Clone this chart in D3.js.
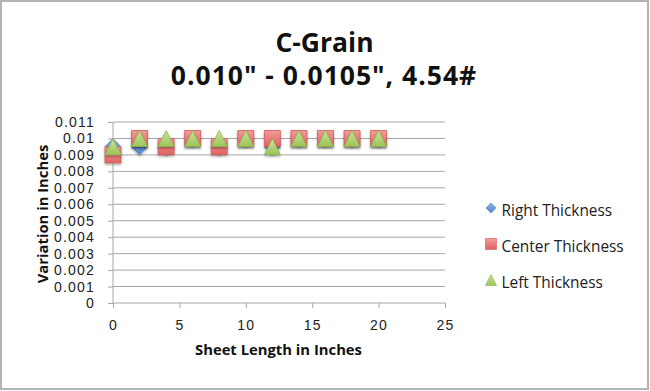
<!DOCTYPE html>
<html><head><meta charset="utf-8">
<script src="https://cdn.jsdelivr.net/npm/d3@7/dist/d3.min.js"></script>
<style>body{margin:0;background:#fff}svg{display:block}</style>
</head><body>
<svg id="c" width="650" height="391"></svg>
<script>
const xValues = [0, 2, 4, 6, 8, 10, 12, 14, 16, 18, 20];
const rightThickness  = [0.0095, 0.0095, 0.0095, 0.01, 0.0095, 0.01, 0.0095, 0.01, 0.01, 0.01, 0.01];
const centerThickness = [0.009, 0.01, 0.0095, 0.01, 0.0095, 0.01, 0.01, 0.01, 0.01, 0.01, 0.01];
const leftThickness   = [0.0095, 0.01, 0.01, 0.01, 0.01, 0.01, 0.0095, 0.01, 0.01, 0.01, 0.01];
const seriesNames = ["Right Thickness", "Center Thickness", "Left Thickness"];
const xTicks = [0, 5, 10, 15, 20, 25];
const yTicks = [0, 0.001, 0.002, 0.003, 0.004, 0.005, 0.006, 0.007, 0.008, 0.009, 0.01, 0.011];
const titleLines = ["C-Grain", "0.010\" - 0.0105\", 4.54#"];

const svg = d3.select("#c");
const font = "'Open Sans', 'Liberation Sans', sans-serif";
const tickFont = "'Liberation Sans', Arial, sans-serif";
svg.append("rect").attr("x",1).attr("y",1).attr("width",647).attr("height",388)
  .attr("fill","#fff").attr("stroke","#b3b3b3").attr("stroke-width",2);

const x = d3.scaleLinear().domain([0,25]).range([113,445]);
const y = d3.scaleLinear().domain([0,0.011]).range([303,122]);

const defs = svg.append("defs");
function grad(id, c1, c2){
  const g = defs.append("linearGradient").attr("id",id).attr("x1",0).attr("y1",0).attr("x2",0).attr("y2",1);
  g.append("stop").attr("offset","0%").attr("stop-color",c1);
  g.append("stop").attr("offset","100%").attr("stop-color",c2);
}
grad("gB","#8db6ec","#4d84cf");
grad("gR","#f29c99","#e0625f");
grad("gG","#c9e39a","#9cc45a");
const f = defs.append("filter").attr("id","sh").attr("x","-50%").attr("y","-50%").attr("width","200%").attr("height","200%");
f.append("feDropShadow").attr("dx",0).attr("dy",1.5).attr("stdDeviation",1.2).attr("flood-color","#000").attr("flood-opacity",0.35);

// gridlines
svg.append("g").selectAll("line").data(yTicks.filter(d=>d>0)).join("line")
  .attr("x1",113).attr("x2",445).attr("y1",d=>y(d)).attr("y2",d=>y(d))
  .attr("stroke","#a6a6a6").attr("stroke-width",1);

// axes
const yAxis = d3.axisLeft(y).tickValues(yTicks).tickSize(5).tickPadding(13).tickFormat(d=> d===0?"0":String(+d.toFixed(3)));
const gy = svg.append("g").attr("transform","translate(113,0)").call(yAxis);
const xAxis = d3.axisBottom(x).tickValues(xTicks).tickSize(5).tickPadding(12).tickFormat(d3.format("d"));
const gx = svg.append("g").attr("transform","translate(0,303)").call(xAxis);
[gx,gy].forEach(g=>{
  g.select(".domain").attr("stroke","#a6a6a6");
  g.selectAll(".tick line").attr("stroke","#a6a6a6");
  g.selectAll("text").attr("font-family",tickFont).attr("font-size",14).attr("letter-spacing",1.2).attr("fill","#222");
});
gy.select(".domain").attr("d","M0,122V303");
gx.select(".domain").attr("d","M113,0H445");

// marker shapes (box of side 2h centred on the value)
function shape(i, h){
  if(i===0) return `M0,${-h}L${h},0L0,${h}L${-h},0Z`;
  if(i===1) return `M${-h},${-h}H${h}V${h}H${-h}Z`;
  return `M0,${-h}L${h},${h}H${-h}Z`;
}
const fills = ["url(#gB)","url(#gR)","url(#gG)"];
const strokes = ["#4a7ec4","#cf5b58","#8fb64c"];
const allSeries = [rightThickness, centerThickness, leftThickness];
allSeries.forEach((vals,i)=>{
  svg.append("g").selectAll("path").data(vals).join("path")
    .attr("d", shape(i, 8))
    .attr("transform",(d,k)=>`translate(${x(xValues[k])},${y(d)})`)
    .attr("fill",fills[i]).attr("stroke",strokes[i]).attr("stroke-width",0.8)
    .attr("filter","url(#sh)");
});

// titles
svg.append("text").attr("x",324.5).attr("y",52).attr("text-anchor","middle")
  .attr("font-family",font).attr("font-weight","bold").attr("font-size",26.5).attr("fill","#111").text(titleLines[0]);
svg.append("text").attr("x",324).attr("y",85).attr("text-anchor","middle")
  .attr("font-family",font).attr("font-weight","bold").attr("font-size",26.5).attr("letter-spacing",1)
  .attr("fill","#111").text(titleLines[1]);

svg.append("text").attr("transform","translate(48,214) rotate(-90)").attr("text-anchor","middle")
  .attr("font-family",font).attr("font-weight","bold").attr("font-size",14.8).attr("fill","#111").text("Variation in Inches");
svg.append("text").attr("x",278.5).attr("y",355).attr("text-anchor","middle")
  .attr("font-family",font).attr("font-weight","bold").attr("font-size",14.8).attr("fill","#111").text("Sheet Length in Inches");

// legend
const legY = [216, 252, 288];
const lg = svg.append("g");
seriesNames.forEach((n,i)=>{
  lg.append("path").attr("d",shape(i, i===0?5:5.5)).attr("transform",`translate(491,${legY[i]-8})`)
    .attr("fill",fills[i]).attr("stroke",strokes[i]).attr("stroke-width",0.6);
  lg.append("text").attr("x",501.5).attr("y",legY[i]).attr("font-family",font).attr("font-size",15.4)
    .attr("fill","#222").text(n);
});
</script>
</body></html>
